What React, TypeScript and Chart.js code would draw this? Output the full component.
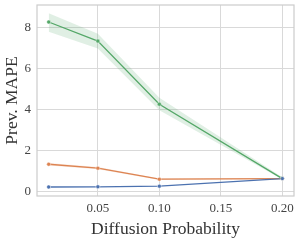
import React, { useEffect, useRef } from "react";
import { Chart, registerables } from "chart.js";

Chart.register(...registerables);

const xValues = [0.01, 0.05, 0.1, 0.2];
const xTicks = [0.05, 0.1, 0.15, 0.2];
const yTicks = [0, 2, 4, 6, 8];

const blueMean = [0.24, 0.25, 0.28, 0.65];
const orangeMean = [1.35, 1.16, 0.62, 0.65];
const orangeLow = [1.29, 1.11, 0.58, 0.62];
const orangeHigh = [1.41, 1.21, 0.66, 0.68];
const greenMean = [8.29, 7.36, 4.28, 0.65];
const greenLow = [7.82, 7.0, 3.98, 0.6];
const greenHigh = [8.72, 7.72, 4.6, 0.71];

const FONT = "'Liberation Serif', 'DejaVu Serif', serif";

const toXY = (arr: number[]) => arr.map((y, i) => ({ x: xValues[i], y }));

export default function App() {
  const ref = useRef<HTMLCanvasElement | null>(null);
  useEffect(() => {
    document.body.style.margin = "0";
    const canvas = ref.current!;
    const frame = {
      id: "frame",
      afterDraw(chart: any) {
        const { ctx, chartArea: a } = chart;
        ctx.save();
        ctx.strokeStyle = "#cccccc";
        ctx.lineWidth = 1.2;
        ctx.strokeRect(a.left, a.top, a.right - a.left, a.bottom - a.top);
        ctx.restore();
      },
    };
    const band = (data: number[], color: string, fill: any) => ({
      data: toXY(data),
      borderWidth: 0,
      pointRadius: 0,
      backgroundColor: color,
      fill,
      borderColor: "transparent",
    });
    const line = (data: number[], color: string) => ({
      data: toXY(data),
      borderColor: color,
      backgroundColor: color,
      borderWidth: 1.3,
      pointRadius: 2,
      pointBorderColor: "#ffffff",
      pointBorderWidth: 0.5,
      fill: false,
    });
    const zeroPad = (s: any) => {
      s.paddingTop = 0;
      s.paddingBottom = 0;
      s.paddingLeft = 0;
      s.paddingRight = 0;
    };
    const chart = new Chart(canvas, {
      type: "line",
      data: {
        datasets: [
          band(greenHigh, "rgba(85,168,104,0.18)", "+1") as any,
          band(greenLow, "rgba(85,168,104,0.18)", false) as any,
          band(orangeHigh, "rgba(221,132,82,0.18)", "+1") as any,
          band(orangeLow, "rgba(221,132,82,0.18)", false) as any,
          line(blueMean, "#4c72b0") as any,
          line(orangeMean, "#dd8452") as any,
          line(greenMean, "#55a868") as any,
        ],
      },
      plugins: [frame],
      options: {
        animation: false,
        responsive: false,
        layout: { padding: { top: 5, right: 6, left: 0, bottom: 0 } },
        plugins: { legend: { display: false }, tooltip: { enabled: false } },
        scales: {
          x: {
            type: "linear",
            min: 0.0005,
            max: 0.2095,
            afterBuildTicks: (s: any) => {
              s.ticks = xTicks.map((v) => ({ value: v }));
            },
            afterFit: (s: any) => {
              s.height = 44;
              zeroPad(s);
            },
            border: { display: false },
            grid: { color: "#d9d9d9", lineWidth: 1, drawTicks: false },
            ticks: {
              color: "#444444",
              font: { family: FONT, size: 13 },
              padding: 5,
              callback: (v: any) => Number(v).toFixed(2),
            },
            title: {
              display: true,
              text: "Diffusion Probability",
              color: "#333333",
              font: { family: FONT, size: 17.5 },
              padding: { top: 0, bottom: 0 },
            },
          },
          y: {
            min: -0.2,
            max: 9.12,
            afterBuildTicks: (s: any) => {
              s.ticks = yTicks.map((v) => ({ value: v }));
            },
            afterFit: (s: any) => {
              s.width = 37;
              zeroPad(s);
            },
            border: { display: false },
            grid: { color: "#d9d9d9", lineWidth: 1, drawTicks: false },
            ticks: {
              color: "#444444",
              font: { family: FONT, size: 13 },
              padding: 6,
            },
            title: {
              display: true,
              text: "Prev. MAPE",
              color: "#333333",
              font: { family: FONT, size: 17.5 },
              padding: { top: 2, bottom: 0 },
            },
          },
        },
      },
    });
    return () => chart.destroy();
  }, []);
  return (
    <div style={{ width: 300, height: 240 }}>
      <canvas ref={ref} width={300} height={240} style={{ display: "block" }} />
    </div>
  );
}
